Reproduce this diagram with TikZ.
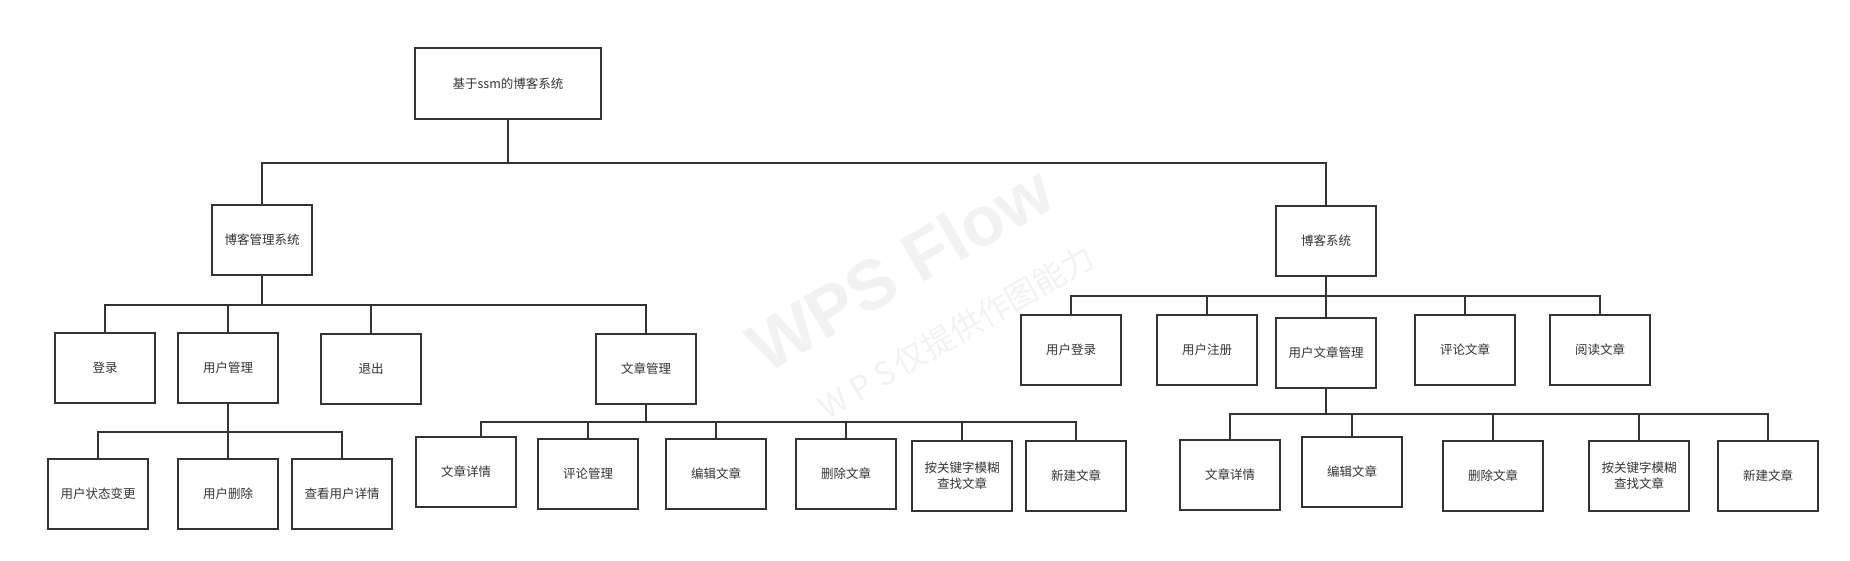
\documentclass[tikz,border=0pt]{standalone}
\usepackage{fontspec}
\setmainfont{Noto Sans CJK SC}
\newfontfamily\wmfont{Liberation Sans}
\definecolor{linegray}{RGB}{51, 51, 51}
\definecolor{markgray}{RGB}{242, 242, 242}

\begin{document}
\begin{tikzpicture}[x=1pt, y=-1pt]
    \tikzstyle{box}=[rectangle, draw=linegray, line width=1.8pt, fill=white, minimum width=100pt, minimum height=70pt, inner sep=2pt, align=center, text=linegray, font=\fontsize{12.5}{16}\selectfont]
    \tikzstyle{link}=[draw=linegray, line width=1.5pt]
    \useasboundingbox (0,0) rectangle (1850,561);

    % Watermark
    \node[rotate=30, text=markgray, font=\wmfont\bfseries\fontsize{70}{70}\selectfont] (mark1) at (900,268) {WPS Flow};
    \node[rotate=30, text=markgray, font=\fontsize{32}{32}\selectfont] (mark2) at (956,332) {W\hspace{8pt}P\hspace{8pt}S\hspace{4pt}仅提供作图能力};

    % Root
    \node[box, minimum width=186pt, minimum height=71pt] (root) at (508,83.5) {基于ssm的博客系统};

    % Second level
    \node[box] (admin) at (262,240) {博客管理系统};
    \node[box] (blog) at (1326,241) {博客系统};

    % Blog management system
    \foreach \x/\y/\name/\txt in {105/368/login/登录, 228/368/user/用户管理, 371/369/logout/退出, 646/369/article/文章管理} {
        \node[box] (\name) at (\x,\y) {\txt};
    }

    % User management
    \foreach \x/\name/\txt in {98/ustate/用户状态变更, 228/udel/用户删除, 342/uinfo/查看用户详情} {
        \node[box] (\name) at (\x,494) {\txt};
    }

    % Article management
    \foreach \x/\y/\name/\txt in {466/472/aview/文章详情, 588/474/acomm/评论管理, 716/474/aedit/编辑文章, 846/474/adel/删除文章, 962/476/afind/按关键字模糊\\查找文章, 1076/476/anew/新建文章} {
        \node[box] (\name) at (\x,\y) {\txt};
    }

    % Blog system
    \foreach \x/\y/\name/\txt in {1071/350/ulogin/用户登录, 1207/350/ureg/用户注册, 1326/353/uart/用户文章管理, 1465/350/ucomm/评论文章, 1600/350/uread/阅读文章} {
        \node[box] (\name) at (\x,\y) {\txt};
    }

    % User article management
    \foreach \x/\y/\name/\txt in {1230/475/bview/文章详情, 1352/472/bedit/编辑文章, 1493/476/bdel/删除文章, 1639/476/bfind/按关键字模糊\\查找文章, 1768/476/bnew/新建文章} {
        \node[box] (\name) at (\x,\y) {\txt};
    }

    % Connections
    \foreach \c in {admin,blog} {
        \draw[link] (root.south) -- ++(0,43) -| (\c.north);
    }
    \foreach \c in {login,user,logout,article} {
        \draw[link] (admin.south) -- ++(0,29) -| (\c.north);
    }
    \foreach \c in {ustate,udel,uinfo} {
        \draw[link] (user.south) -- ++(0,28) -| (\c.north);
    }
    \draw[link] (article.south) -- ++(0,17) -| ([xshift=15pt]aview.north);
    \foreach \c in {acomm,aedit,adel,afind,anew} {
        \draw[link] (article.south) -- ++(0,17) -| (\c.north);
    }
    \foreach \c in {ulogin,ureg,uart,ucomm,uread} {
        \draw[link] (blog.south) -- ++(0,19) -| (\c.north);
    }
    \foreach \c in {bview,bedit,bdel,bfind,bnew} {
        \draw[link] (uart.south) -- ++(0,25) -| (\c.north);
    }
\end{tikzpicture}
\end{document}
